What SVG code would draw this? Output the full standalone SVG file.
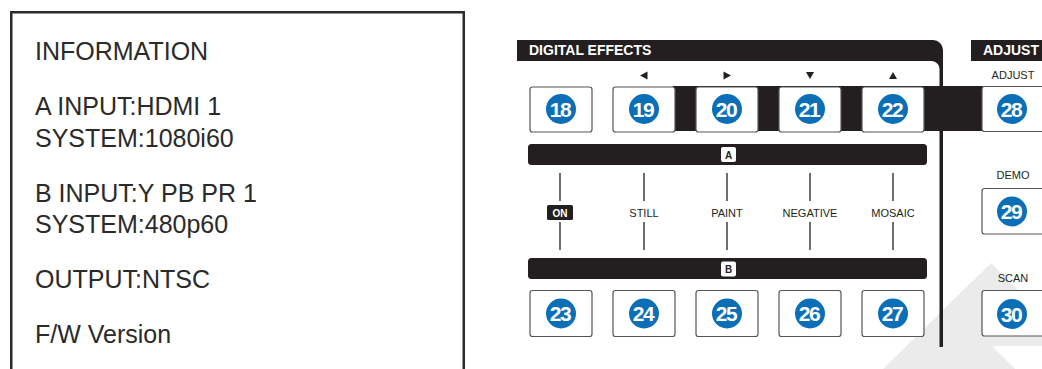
<svg xmlns="http://www.w3.org/2000/svg" width="1042" height="369" viewBox="0 0 1042 369">
<style>
.info{font-family:"Liberation Sans",Arial,sans-serif;font-size:25px;fill:#2a2a2a}
.hdr{font-family:"Liberation Sans",Arial,sans-serif;font-size:14px;font-weight:bold;fill:#fff}
.lbl{font-family:"Liberation Sans",Arial,sans-serif;font-size:11px;fill:#231f20;text-anchor:middle}
.btn{fill:#fff;stroke:#555;stroke-width:1.2}
.num{font-family:"Liberation Sans",Arial,sans-serif;font-size:21px;font-weight:bold;fill:#fff;text-anchor:middle;letter-spacing:-1.5px}
.dot{fill:#0a6fb7}
.blk{fill:#231f20}
.ln{stroke:#231f20;stroke-width:1.3;fill:none}
.ab{font-family:"Liberation Sans",Arial,sans-serif;font-size:10px;font-weight:bold;fill:#231f20;text-anchor:middle}
</style>
<rect width="1042" height="369" fill="#fff"/>
<g id="info-panel">
<rect x="11.25" y="12.25" width="452.5" height="400" fill="#fff" stroke="#2b2b2b" stroke-width="2.5"/>
<text class="info" x="35" y="60">INFORMATION</text>
<text class="info" x="35" y="115">A INPUT:HDMI 1</text>
<text class="info" x="35" y="147">SYSTEM:1080i60</text>
<text class="info" x="35" y="202">B INPUT:Y PB PR 1</text>
<text class="info" x="35" y="233">SYSTEM:480p60</text>
<text class="info" x="35" y="288">OUTPUT:NTSC</text>
<text class="info" x="35" y="343">F/W Version</text>
</g>
<g id="background">
<polygon points="883,369 991,263 1097,369" fill="#ebebeb"/>
<polygon points="992,346 1042,346 1042,369 1015,369" fill="#fff"/>
</g>
<g id="frame">
<path class="blk" d="M517,40 H933 A10,10 0 0 1 943,50 V347 H939.5 V70 A8,8 0 0 0 931.5,61 H517 Z"/>
<text class="hdr" x="529" y="55">DIGITAL EFFECTS</text>
<rect class="blk" x="971" y="40" width="71" height="21"/>
<text class="hdr" x="983" y="55">ADJUST</text>
<rect class="blk" x="673" y="86" width="310" height="45"/>
</g>
<g id="connectors">
<rect class="blk" x="528" y="144" width="399" height="21" rx="3.5"/>
<rect x="721" y="147" width="15" height="15" rx="2" fill="#fff"/>
<text class="ab" x="728.5" y="158.5">A</text>
<rect class="blk" x="528" y="258" width="399" height="21" rx="3.5"/>
<rect x="721" y="261.5" width="15" height="15" rx="2" fill="#fff"/>
<text class="ab" x="728.5" y="273">B</text>
<path class="ln" d="M560,173V201M560,222V250M644,173V201M644,222V250M727,173V201M727,222V250M810,173V201M810,222V250M893,173V201M893,222V250"/>
</g>
<g id="mode-labels">
<rect class="blk" x="547" y="205" width="26" height="15" rx="1.5"/>
<text x="560" y="217" font-family="Liberation Sans,Arial,sans-serif" font-size="10" font-weight="bold" fill="#fff" text-anchor="middle">ON</text>
<text class="lbl" x="644" y="217">STILL</text>
<text class="lbl" x="727" y="217">PAINT</text>
<text class="lbl" x="810" y="217">NEGATIVE</text>
<text class="lbl" x="893" y="217">MOSAIC</text>
</g>
<g id="arrows">
<polygon class="blk" points="640,75.5 647.5,71.5 647.5,79.5"/>
<polygon class="blk" points="731,75.5 723.5,71.5 723.5,79.5"/>
<polygon class="blk" points="806,72 814,72 810,79"/>
<polygon class="blk" points="889,79 897,79 893,72"/>
</g>
<g id="btn18"><rect class="btn" x="530" y="87" width="62" height="45" rx="2.5"/><circle class="dot" cx="561" cy="109" r="15"/><text class="num" x="560" y="116.5">18</text></g>
<g id="btn19"><rect class="btn" x="613" y="87" width="62" height="45" rx="2.5"/><circle class="dot" cx="644" cy="109" r="15"/><text class="num" x="643" y="116.5">19</text></g>
<g id="btn20"><rect class="btn" x="696" y="87" width="62" height="45" rx="2.5"/><circle class="dot" cx="727" cy="109" r="15"/><text class="num" x="726" y="116.5">20</text></g>
<g id="btn21"><rect class="btn" x="779" y="87" width="62" height="45" rx="2.5"/><circle class="dot" cx="810" cy="109" r="15"/><text class="num" x="809" y="116.5">21</text></g>
<g id="btn22"><rect class="btn" x="862" y="87" width="62" height="45" rx="2.5"/><circle class="dot" cx="893" cy="109" r="15"/><text class="num" x="892" y="116.5">22</text></g>
<g id="btn23"><rect class="btn" x="530" y="290.5" width="62" height="46" rx="2.5"/><circle class="dot" cx="561" cy="313.5" r="15"/><text class="num" x="560" y="321">23</text></g>
<g id="btn24"><rect class="btn" x="613" y="290.5" width="62" height="46" rx="2.5"/><circle class="dot" cx="644" cy="313.5" r="15"/><text class="num" x="643" y="321">24</text></g>
<g id="btn25"><rect class="btn" x="696" y="290.5" width="62" height="46" rx="2.5"/><circle class="dot" cx="727" cy="313.5" r="15"/><text class="num" x="726" y="321">25</text></g>
<g id="btn26"><rect class="btn" x="779" y="290.5" width="62" height="46" rx="2.5"/><circle class="dot" cx="810" cy="313.5" r="15"/><text class="num" x="809" y="321">26</text></g>
<g id="btn27"><rect class="btn" x="862" y="290.5" width="62" height="46" rx="2.5"/><circle class="dot" cx="893" cy="313.5" r="15"/><text class="num" x="892" y="321">27</text></g>
<g id="btn28"><text class="lbl" x="1013" y="79">ADJUST</text><rect class="btn" x="982" y="86.5" width="64" height="45" rx="2.5"/><circle class="dot" cx="1012" cy="109" r="15"/><text class="num" x="1011" y="116.5">28</text></g>
<g id="btn29"><text class="lbl" x="1013" y="179">DEMO</text><rect class="btn" x="982" y="188.5" width="64" height="45.5" rx="2.5"/><circle class="dot" cx="1012" cy="211.5" r="15"/><text class="num" x="1011" y="219">29</text></g>
<g id="btn30"><text class="lbl" x="1013" y="282">SCAN</text><rect class="btn" x="982" y="290.5" width="64" height="45.5" rx="2.5"/><circle class="dot" cx="1012" cy="314" r="15"/><text class="num" x="1011" y="321.5">30</text></g>
</svg>
